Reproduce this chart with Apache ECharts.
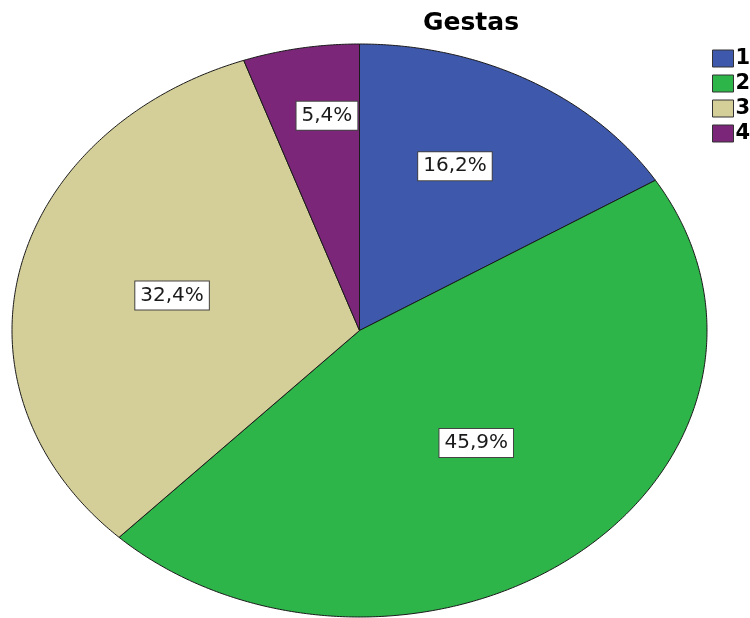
<!DOCTYPE html>
<html><head><meta charset="utf-8">
<script src="https://cdn.jsdelivr.net/npm/echarts@6/dist/echarts.min.js"></script>
<style>html,body{margin:0;padding:0;background:#fff}#c{width:750px;height:618px}</style>
</head><body><div id="c"></div>
<script>
const chartTitle = 'Gestas';
const categories = ['1', '2', '3', '4'];
const counts = [6, 17, 12, 2];
const colors = ['#3E58AC', '#2EB54A', '#D4CE98', '#7B2678'];
// label placement (fraction of radius, angular shift in degrees)
const labelR = [0.636, 0.517, 0.553, 0.755];
const labelShift = [-3.6, -1.6, 0.6, 2.6];

const total = counts.reduce((a, b) => a + b, 0);
const starts = [];
let acc = 0;
counts.forEach(c => { starts.push(acc); acc += c; });
function fmt(c) { return (c / total * 100).toFixed(1).replace('.', ',') + '%'; }

function renderItem(params, api) {
  const i = params.dataIndex;
  const a0 = starts[i] / total * 2 * Math.PI;
  const a1 = (starts[i] + counts[i]) / total * 2 * Math.PI;
  const pts = [api.coord([0, 0])];
  const n = Math.max(2, Math.ceil((a1 - a0) / (Math.PI / 360)));
  for (let k = 0; k <= n; k++) {
    const a = a0 + (a1 - a0) * k / n;
    pts.push(api.coord([Math.sin(a), Math.cos(a)]));
  }
  const mid = (a0 + a1) / 2 + labelShift[i] * Math.PI / 180;
  const lp = api.coord([labelR[i] * Math.sin(mid), labelR[i] * Math.cos(mid)]);
  return {
    type: 'group',
    children: [
      { type: 'polygon', shape: { points: pts }, style: { fill: colors[i], stroke: '#1a1a1a', lineWidth: 1 } },
      { type: 'text', x: lp[0], y: lp[1], z2: 10,
        style: { text: fmt(counts[i]), x: 0, y: 0, align: 'center', verticalAlign: 'middle',
          font: '20px "DejaVu Sans"', fill: '#1a1a1a', backgroundColor: '#fff',
          borderColor: '#444', borderWidth: 1, padding: [4, 5] } }
    ]
  };
}

const series = [{
  type: 'custom', name: chartTitle, renderItem: renderItem,
  data: counts.map((c, i) => ({ name: categories[i], value: [i, c] })),
  silent: true
}];
categories.forEach((name, i) => {
  series.push({ type: 'scatter', name: name, data: [], itemStyle: { color: colors[i], opacity: 1 } });
});

const chart = echarts.init(document.getElementById('c'));
chart.setOption({
  animation: false,
  backgroundColor: '#fff',
  title: { text: chartTitle, left: 423, top: 11, padding: 0,
    textStyle: { fontFamily: 'DejaVu Sans', fontWeight: 'bold', fontSize: 25, color: '#000' } },
  legend: {
    orient: 'vertical', left: 712, top: 48, padding: 0, itemGap: 4,
    itemWidth: 21, itemHeight: 17, icon: 'rect',
    itemStyle: { borderColor: '#333', borderWidth: 1, opacity: 1 },
    data: categories,
    textStyle: { fontFamily: 'DejaVu Sans', fontWeight: 'bold', fontSize: 21, color: '#000', padding: [0, 0, 0, -3] }
  },
  grid: { left: 12, top: 44, width: 695, height: 573 },
  xAxis: { type: 'value', min: -1, max: 1, show: false },
  yAxis: { type: 'value', min: -1, max: 1, show: false },
  series: series
});
</script>
</body></html>
